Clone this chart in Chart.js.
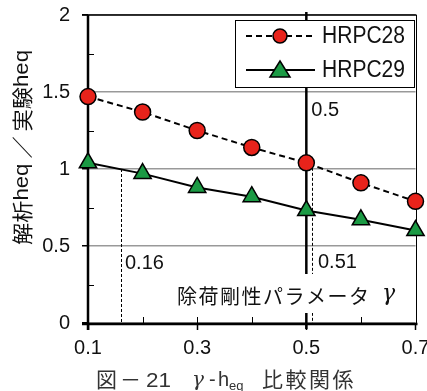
<!DOCTYPE html>
<html lang="ja">
<head>
<meta charset="UTF-8"/>
<title>γ - heq 比較関係</title>
<script src="https://cdn.jsdelivr.net/npm/chart.js"></script>
<style>
  html, body { margin: 0; padding: 0; background: #fff; }
  #wrap { width: 427px; height: 391px; }
</style>
</head>
<body>
<div id="wrap"><canvas id="chart" width="427" height="391"></canvas></div>
<script>
// data
const gamma = [0.1, 0.2, 0.3, 0.4, 0.5, 0.6, 0.7];
const hrpc28 = [1.47, 1.37, 1.25, 1.14, 1.04, 0.91, 0.79];
const hrpc29 = [1.04, 0.97, 0.88, 0.82, 0.73, 0.67, 0.60];
const xLabels = [0.1, 0.3, 0.5, 0.7];
const yLabels = [0, 0.5, 1, 1.5, 2];
const markLines = [
  { x: 0.16, yTop: 1.0, text: '0.16' },
  { x: 0.51, yTop: 1.04, text: '0.51' }
];

const FONT = '"Liberation Sans", Arial, sans-serif';
const JP = '"Noto Sans CJK JP", "Noto Sans", sans-serif';
const GREEK = '"DejaVu Serif", serif';
const RED = '#e8231b';
const GREEN = '#1b9a44';

const toXY = ys => gamma.map((g, i) => ({ x: g, y: ys[i] }));

// draws a run of [text, font, dy] pieces squeezed/stretched to a given width
function fitText(ctx, pieces, x0, width, y) {
  let total = 0;
  pieces.forEach(p => { ctx.font = p[1]; total += ctx.measureText(p[0]).width; });
  ctx.save();
  ctx.translate(x0, y);
  ctx.scale(width / total, 1);
  let px = 0;
  pieces.forEach(p => {
    ctx.font = p[1];
    ctx.fillText(p[0], px, p[2] || 0);
    px += ctx.measureText(p[0]).width;
  });
  ctx.restore();
}

const decor = {
  id: 'decor',
  beforeDatasetsDraw(chart) {
    const { ctx, chartArea: a, scales: { x, y } } = chart;
    ctx.save();
    ctx.strokeStyle = '#000';
    ctx.lineWidth = 1;
    // minor inward ticks
    [0.25, 0.75, 1.25, 1.75].forEach(v => {
      const py = Math.round(y.getPixelForValue(v)) + 0.5;
      ctx.beginPath(); ctx.moveTo(a.left, py); ctx.lineTo(a.left + 6, py); ctx.stroke();
    });
    [0.2, 0.3, 0.4, 0.6].forEach(v => {
      const px = Math.round(x.getPixelForValue(v)) + 0.5;
      ctx.beginPath(); ctx.moveTo(px, a.bottom); ctx.lineTo(px, a.bottom - 6); ctx.stroke();
    });
    // dashed guide lines
    ctx.setLineDash([3, 2]);
    markLines.forEach(m => {
      const px = Math.round(x.getPixelForValue(m.x)) + 0.5;
      ctx.beginPath(); ctx.moveTo(px, y.getPixelForValue(m.yTop)); ctx.lineTo(px, a.bottom); ctx.stroke();
    });
    ctx.setLineDash([]);
    // right border at 0.7
    const rx = Math.round(x.getPixelForValue(0.7)) + 0.5;
    ctx.beginPath(); ctx.moveTo(rx, a.top); ctx.lineTo(rx, a.bottom); ctx.stroke();
    // top border
    ctx.lineWidth = 1.5;
    ctx.beginPath(); ctx.moveTo(a.left - 6, a.top); ctx.lineTo(rx, a.top); ctx.stroke();
    // thick line at 0.5
    const cx = x.getPixelForValue(0.5);
    ctx.lineWidth = 2.5;
    ctx.beginPath(); ctx.moveTo(cx, a.top - 3); ctx.lineTo(cx, a.bottom + 6); ctx.stroke();
    // axes
    ctx.beginPath(); ctx.moveTo(a.left, a.top); ctx.lineTo(a.left, a.bottom + 7); ctx.stroke();
    ctx.beginPath(); ctx.moveTo(a.left - 6, a.bottom + 1); ctx.lineTo(rx + 1, a.bottom + 1); ctx.stroke();

    // white box with axis label
    ctx.fillStyle = '#fff';
    ctx.fillRect(174, 274, 228, 39);
    ctx.fillStyle = '#111';
    ctx.textBaseline = 'middle';
    ctx.textAlign = 'left';
    ctx.font = '20px ' + JP;
    [...'除荷剛性パラメータ'].forEach((ch, i) => ctx.fillText(ch, 177 + i * 21.5, 296));
    ctx.font = 'italic 22px ' + GREEK;
    ctx.fillText('γ', 382, 294);

    // value labels
    ctx.font = '20px ' + FONT;
    ctx.fillText('0.16', 125, 263);
    ctx.fillText('0.51', 318, 262);
    ctx.fillText('0.5', cx + 5, 110);
    ctx.restore();
  },
  afterDraw(chart) {
    const { ctx } = chart;
    ctx.save();
    // legend
    ctx.fillStyle = '#fff';
    ctx.fillRect(235, 20, 179, 67);
    ctx.strokeStyle = '#000';
    ctx.lineWidth = 1;
    ctx.strokeRect(235.5, 20.5, 179, 67);
    const rows = [
      { y: 36, dash: [6, 4], color: RED, style: 'circle', text: 'HRPC28' },
      { y: 70, dash: [], color: GREEN, style: 'triangle', text: 'HRPC29' }
    ];
    rows.forEach(r => {
      ctx.strokeStyle = '#000';
      ctx.lineWidth = 2;
      ctx.setLineDash(r.dash);
      ctx.beginPath(); ctx.moveTo(246, r.y); ctx.lineTo(315, r.y); ctx.stroke();
      ctx.setLineDash([]);
      ctx.lineWidth = 1.5;
      ctx.fillStyle = r.color;
      ctx.beginPath();
      if (r.style === 'circle') {
        ctx.arc(280, r.y, 7, 0, Math.PI * 2);
      } else {
        ctx.moveTo(280, r.y - 9); ctx.lineTo(290, r.y + 7); ctx.lineTo(270, r.y + 7); ctx.closePath();
      }
      ctx.fill(); ctx.stroke();
      ctx.fillStyle = '#111';
      ctx.textBaseline = 'middle';
      ctx.textAlign = 'left';
      fitText(ctx, [[r.text, '23px ' + FONT]], 322, 83, r.y + 1);
    });

    // y axis title
    ctx.save();
    ctx.translate(22, 148);
    ctx.rotate(-Math.PI / 2);
    ctx.fillStyle = '#111';
    ctx.textAlign = 'left';
    ctx.textBaseline = 'middle';
    fitText(ctx, [
      ['解析', '21px ' + JP], ['heq', '21px ' + FONT], [' ／ ', '21px ' + JP],
      ['実験', '21px ' + JP], ['heq', '21px ' + FONT]
    ], -97, 195, 0);
    ctx.restore();

    // caption
    ctx.fillStyle = '#333';
    ctx.textBaseline = 'alphabetic';
    ctx.textAlign = 'left';
    ctx.font = '21px ' + JP;
    ctx.fillText('図', 96, 387);
    ctx.fillText('－', 120, 387);
    fitText(ctx, [['21', '21px ' + FONT]], 146, 25, 387);
    ctx.font = 'italic 20px ' + GREEK;
    ctx.fillText('γ', 192, 386);
    ctx.font = '20px ' + FONT;
    ctx.fillText('-', 209, 386);
    ctx.fillText('h', 218, 386);
    ctx.font = '13px ' + FONT;
    ctx.fillText('eq', 229, 390);
    ctx.font = '21px ' + JP;
    [...'比較関係'].forEach((ch, i) => ctx.fillText(ch, 262 + i * 23.5, 387));
    ctx.restore();
  }
};

new Chart(document.getElementById('chart'), {
  type: 'line',
  data: {
    datasets: [
      {
        label: 'HRPC28', data: toXY(hrpc28),
        borderColor: '#000', borderWidth: 2, borderDash: [6, 4],
        pointStyle: 'circle', pointRadius: 8, pointBackgroundColor: RED,
        pointBorderColor: '#000', pointBorderWidth: 1.5, tension: 0, clip: false
      },
      {
        label: 'HRPC29', data: toXY(hrpc29),
        borderColor: '#000', borderWidth: 2,
        pointStyle: 'triangle', pointRadius: 10, pointBackgroundColor: GREEN,
        pointBorderColor: '#000', pointBorderWidth: 1.5, tension: 0, clip: false
      }
    ]
  },
  options: {
    responsive: false,
    animation: false,
    layout: { padding: { top: 15, right: 11, left: 0, bottom: 0 } },
    plugins: { legend: { display: false }, tooltip: { enabled: false } },
    scales: {
      x: {
        type: 'linear', min: 0.1, max: 0.7,
        afterFit: s => { s.height = 68; s.paddingLeft = 0; s.paddingRight = 0; },
        afterBuildTicks: s => { s.ticks = xLabels.map(v => ({ value: v })); },
        border: { display: false },
        grid: { drawOnChartArea: false, drawTicks: true, tickLength: 7, tickColor: '#000', tickWidth: 1.5 },
        ticks: { color: '#111', padding: 6, maxRotation: 0, font: { family: FONT, size: 20 }, callback: v => String(v) }
      },
      y: {
        min: 0, max: 2,
        afterFit: s => { s.width = 88; s.paddingTop = 0; s.paddingBottom = 0; },
        afterBuildTicks: s => { s.ticks = yLabels.map(v => ({ value: v })); },
        border: { display: false },
        grid: { color: '#999', lineWidth: 1.5, drawTicks: true, tickLength: 6, tickColor: '#000', tickWidth: 1.5 },
        ticks: { color: '#111', padding: 12, font: { family: FONT, size: 20 }, callback: v => String(v) }
      }
    }
  },
  plugins: [decor]
});
</script>
</body>
</html>
